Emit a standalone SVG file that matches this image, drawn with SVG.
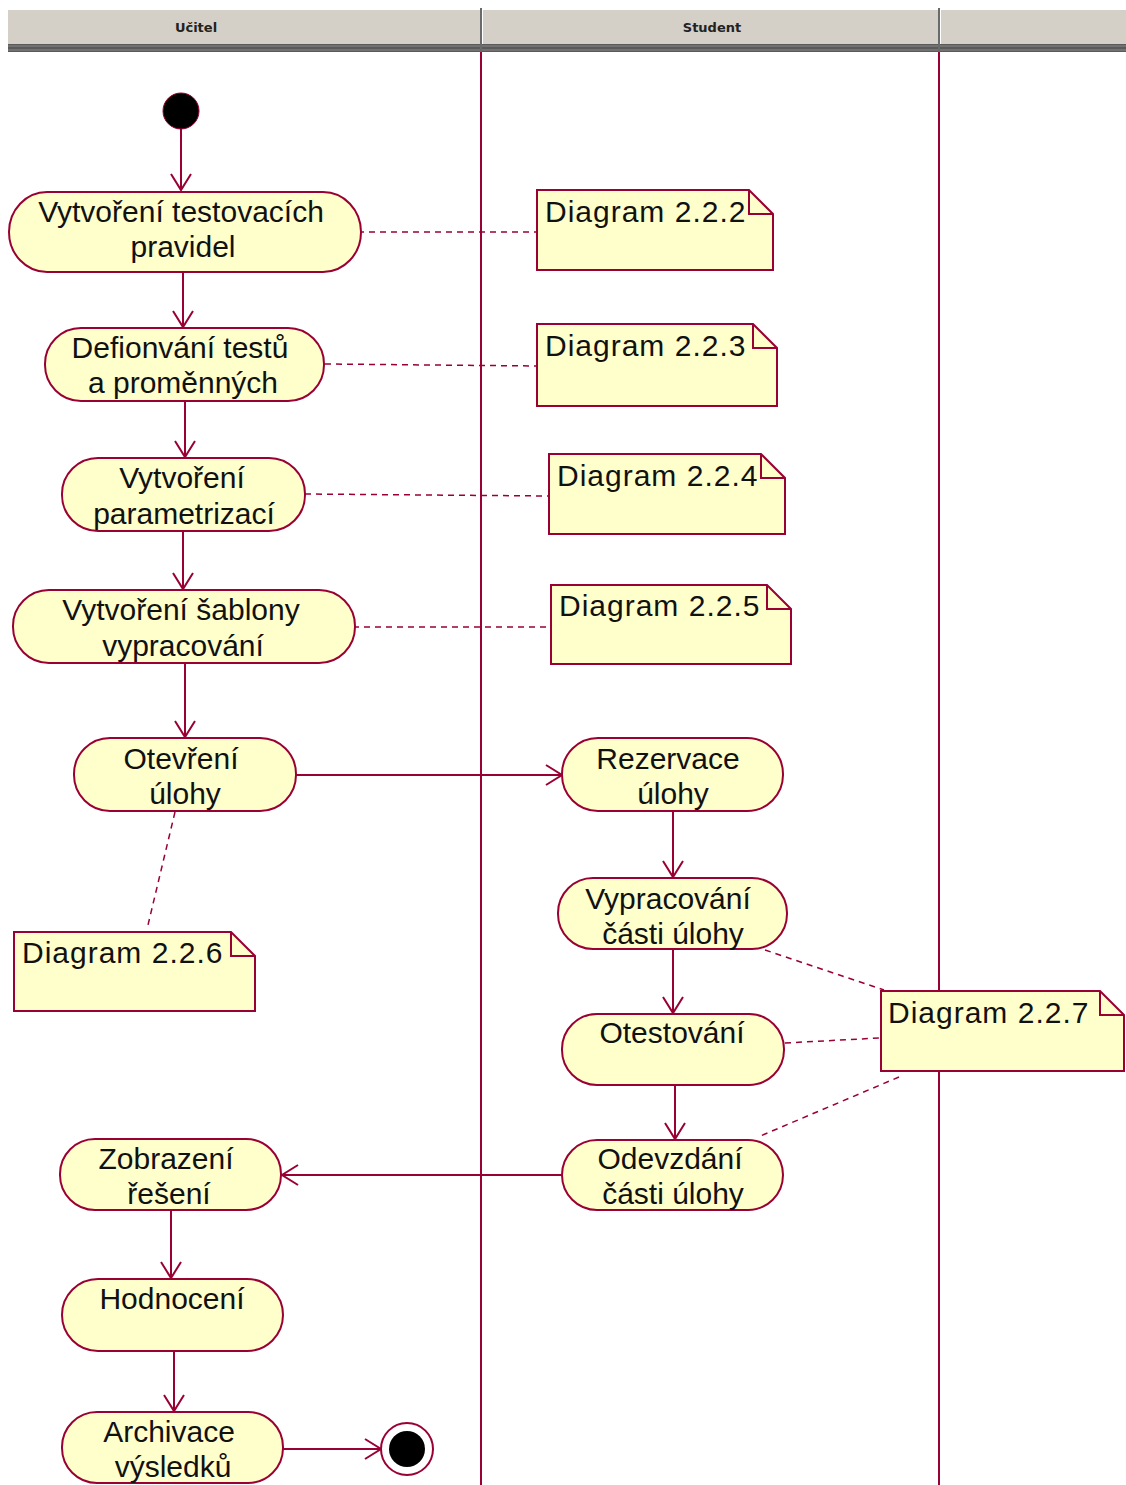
<svg xmlns="http://www.w3.org/2000/svg" width="1126" height="1485" viewBox="0 0 1126 1485">
  <style>
    .act { fill: #ffffcc; stroke: #990033; stroke-width: 2; }
    .note { fill: #ffffcc; stroke: #990033; stroke-width: 2; }
    .fold { fill: none; stroke: #990033; stroke-width: 2; }
    .flow { fill: none; stroke: #990033; stroke-width: 2; marker-end: url(#open); }
    .link { fill: none; stroke: #990033; stroke-width: 1.5; stroke-dasharray: 6 5; }
    .lane { stroke: #990033; stroke-width: 2; }
    .t { font-family: "Liberation Sans", Arial, sans-serif; font-size: 30px; fill: #111; text-anchor: middle; }
    .nt { font-family: "Liberation Sans", Arial, sans-serif; font-size: 30px; fill: #111; letter-spacing: 1px; }
    .hd { font-family: "DejaVu Sans", Tahoma, sans-serif; font-size: 13px; font-weight: bold; fill: #222; text-anchor: middle; }
  </style>
  <defs>
    <marker id="open" markerUnits="userSpaceOnUse" markerWidth="24" markerHeight="24" viewBox="-18 -12 20 24" refX="0" refY="0" orient="auto">
      <path d="M-16,-10 L0,0 L-16,10" fill="none" stroke="#990033" stroke-width="2"/>
    </marker>
  </defs>

  <rect width="1126" height="1485" fill="#ffffff"/>

  <!-- swimlane header -->
  <g id="header">
    <rect x="8" y="10" width="1118" height="34" fill="#d4d0c8"/>
    <rect x="8" y="44" width="1118" height="8" fill="#5a5a5a"/>
    <line x1="8" y1="46" x2="1126" y2="46" stroke="#8a8a8a" stroke-width="1"/>
    <line x1="8" y1="50" x2="1126" y2="50" stroke="#8a8a8a" stroke-width="1"/>
    <line x1="481" y1="8" x2="481" y2="52" stroke="#6a6a6a" stroke-width="2"/>
    <line x1="482.5" y1="8" x2="482.5" y2="44" stroke="#ffffff" stroke-width="1"/>
    <line x1="939" y1="8" x2="939" y2="52" stroke="#6a6a6a" stroke-width="2"/>
    <line x1="940.5" y1="8" x2="940.5" y2="44" stroke="#ffffff" stroke-width="1"/>
    <text class="hd" x="196" y="32">Učitel</text>
    <text class="hd" x="712" y="32">Student</text>
  </g>

  <!-- lane separators -->
  <g id="lanes">
    <line class="lane" x1="481" y1="52" x2="481" y2="1485"/>
    <line class="lane" x1="939" y1="52" x2="939" y2="1485"/>
  </g>

  <!-- control flow and note links -->
  <g id="connectors">
    <line class="flow" x1="181" y1="129" x2="181" y2="190"/>
    <line class="flow" x1="183" y1="272" x2="183" y2="327"/>
    <line class="flow" x1="185" y1="401" x2="185" y2="457"/>
    <line class="flow" x1="183" y1="531" x2="183" y2="589"/>
    <line class="flow" x1="185" y1="663" x2="185" y2="737"/>
    <line class="flow" x1="296" y1="775" x2="562" y2="775"/>
    <line class="flow" x1="673" y1="811" x2="673" y2="877"/>
    <line class="flow" x1="673" y1="949" x2="673" y2="1013"/>
    <line class="flow" x1="675" y1="1085" x2="675" y2="1139"/>
    <line class="flow" x1="562" y1="1175" x2="282" y2="1175"/>
    <line class="flow" x1="171" y1="1210" x2="171" y2="1278"/>
    <line class="flow" x1="174" y1="1351" x2="174" y2="1411"/>
    <line class="flow" x1="283" y1="1449" x2="381" y2="1449"/>

    <line class="link" x1="347" y1="232" x2="537" y2="232"/>
    <line class="link" x1="325" y1="364" x2="537" y2="366"/>
    <line class="link" x1="305" y1="494" x2="549" y2="496"/>
    <line class="link" x1="342" y1="627" x2="551" y2="627"/>
    <line class="link" x1="175" y1="812" x2="148" y2="925"/>
    <line class="link" x1="765" y1="950" x2="884" y2="990"/>
    <line class="link" x1="785" y1="1043" x2="879" y2="1038"/>
    <line class="link" x1="899" y1="1077" x2="758" y2="1137"/>
  </g>

  <!-- initial and final states -->
  <g id="start">
    <circle cx="181" cy="111" r="18" fill="#000" stroke="#990033" stroke-width="1"/>
  </g>
  <g id="end">
    <circle cx="407" cy="1449" r="26" fill="#fff" stroke="#990033" stroke-width="2"/>
    <circle cx="407" cy="1449" r="18" fill="#000"/>
  </g>

  <!-- activities -->
  <g id="a1">
    <rect class="act" x="9" y="192" width="352" height="80" rx="38" ry="40"/>
    <text class="t" x="181" y="222">Vytvoření testovacích</text>
    <text class="t" x="183" y="257">pravidel</text>
  </g>
  <g id="a2">
    <rect class="act" x="45" y="328" width="279" height="73" rx="36" ry="36"/>
    <text class="t" x="180" y="358">Defionvání testů</text>
    <text class="t" x="183" y="393">a proměnných</text>
  </g>
  <g id="a3">
    <rect class="act" x="62" y="458" width="243" height="73" rx="36" ry="36"/>
    <text class="t" x="182" y="488">Vytvoření</text>
    <text class="t" x="184" y="524">parametrizací</text>
  </g>
  <g id="a4">
    <rect class="act" x="13" y="590" width="342" height="73" rx="36" ry="36"/>
    <text class="t" x="181" y="620">Vytvoření šablony</text>
    <text class="t" x="183" y="656">vypracování</text>
  </g>
  <g id="a5">
    <rect class="act" x="74" y="738" width="222" height="73" rx="36" ry="36"/>
    <text class="t" x="181" y="769">Otevření</text>
    <text class="t" x="185" y="804">úlohy</text>
  </g>
  <g id="a6">
    <rect class="act" x="562" y="738" width="221" height="73" rx="36" ry="36"/>
    <text class="t" x="668" y="769">Rezervace</text>
    <text class="t" x="673" y="804">úlohy</text>
  </g>
  <g id="a7">
    <rect class="act" x="558" y="878" width="229" height="71" rx="35" ry="35"/>
    <text class="t" x="668" y="909">Vypracování</text>
    <text class="t" x="673" y="944">části úlohy</text>
  </g>
  <g id="a8">
    <rect class="act" x="562" y="1014" width="222" height="71" rx="35" ry="35"/>
    <text class="t" x="672" y="1043">Otestování</text>
  </g>
  <g id="a9">
    <rect class="act" x="562" y="1140" width="221" height="70" rx="35" ry="35"/>
    <text class="t" x="670" y="1169">Odevzdání</text>
    <text class="t" x="673" y="1204">části úlohy</text>
  </g>
  <g id="a10">
    <rect class="act" x="60" y="1139" width="221" height="71" rx="35" ry="35"/>
    <text class="t" x="166" y="1169">Zobrazení</text>
    <text class="t" x="169" y="1204">řešení</text>
  </g>
  <g id="a11">
    <rect class="act" x="62" y="1279" width="221" height="72" rx="36" ry="36"/>
    <text class="t" x="172" y="1309">Hodnocení</text>
  </g>
  <g id="a12">
    <rect class="act" x="62" y="1412" width="221" height="71" rx="35" ry="35"/>
    <text class="t" x="169" y="1442">Archivace</text>
    <text class="t" x="173" y="1477">výsledků</text>
  </g>

  <!-- notes -->
  <g id="n222">
    <path class="note" d="M537,190 H749 L773,214 V270 H537 Z"/>
    <path class="fold" d="M749,190 V214 H773"/>
    <text class="nt" x="545" y="222">Diagram 2.2.2</text>
  </g>
  <g id="n223">
    <path class="note" d="M537,324 H753 L777,348 V406 H537 Z"/>
    <path class="fold" d="M753,324 V348 H777"/>
    <text class="nt" x="545" y="356">Diagram 2.2.3</text>
  </g>
  <g id="n224">
    <path class="note" d="M549,454 H761 L785,478 V534 H549 Z"/>
    <path class="fold" d="M761,454 V478 H785"/>
    <text class="nt" x="557" y="486">Diagram 2.2.4</text>
  </g>
  <g id="n225">
    <path class="note" d="M551,585 H767 L791,609 V664 H551 Z"/>
    <path class="fold" d="M767,585 V609 H791"/>
    <text class="nt" x="559" y="616">Diagram 2.2.5</text>
  </g>
  <g id="n226">
    <path class="note" d="M14,932 H231 L255,956 V1011 H14 Z"/>
    <path class="fold" d="M231,932 V956 H255"/>
    <text class="nt" x="22" y="963">Diagram 2.2.6</text>
  </g>
  <g id="n227">
    <path class="note" d="M881,991 H1100 L1124,1015 V1071 H881 Z"/>
    <path class="fold" d="M1100,991 V1015 H1124"/>
    <text class="nt" x="888" y="1023">Diagram 2.2.7</text>
  </g>
</svg>
